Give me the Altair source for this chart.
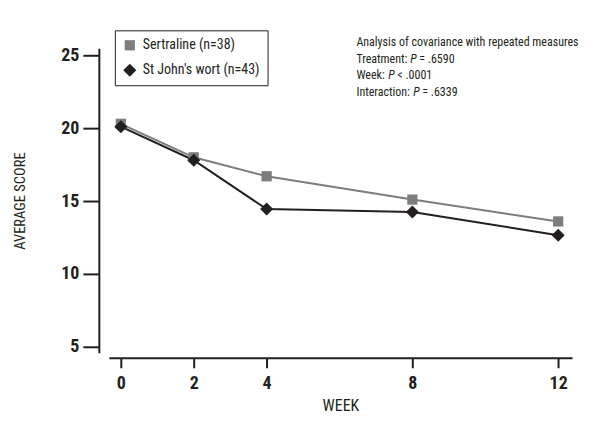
import altair as alt
import pandas as pd

weeks = [0, 2, 4, 8, 12]
sertraline = [20.3, 18.0, 16.7, 15.1, 13.6]
sjw = [20.1, 17.8, 14.45, 14.25, 12.65]
series_names = ["Sertraline (n=38)", "St John's wort (n=43)"]
x_ticks = [0, 2, 4, 8, 12]
y_ticks = [5, 10, 15, 20, 25]
note_title = "Analysis of covariance with repeated measures"
note_labels = ["Treatment:", "Week:", "Interaction:"]
note_stats = ["= .6590", "< .0001", "= .6339"]

FONT = "Roboto Condensed, DejaVu Sans Condensed, sans-serif"
INK = "#231f20"
GRAY = "#7d7d7d"

rows = []
for w, v in zip(weeks, sertraline):
    rows.append({"week": w, "score": v, "group": series_names[0]})
for w, v in zip(weeks, sjw):
    rows.append({"week": w, "score": v, "group": series_names[1]})
df = pd.DataFrame(rows)

W, H = 464, 305
xscale = alt.Scale(domain=[-0.33, 12.38], nice=False, zero=False)
yscale = alt.Scale(domain=[4.59, 25.48], nice=False, zero=False)
legend = alt.Legend(
    title=None, orient="none", legendX=6, legendY=-18,
    strokeColor=INK, padding=8, labelFontSize=14, labelFont=FONT,
    rowPadding=11, labelColor=INK, labelOffset=6,
    symbolStrokeWidth=0,
)
color = alt.Color(
    "group:N",
    scale=alt.Scale(domain=series_names, range=[GRAY, INK]),
    legend=legend,
)
shape = alt.Shape(
    "group:N",
    scale=alt.Scale(domain=series_names, range=["square", "diamond"]),
    legend=legend,
)
size = alt.Size(
    "group:N",
    scale=alt.Scale(domain=series_names, range=[105, 170]),
    legend=legend,
)

x = alt.X("week:Q", scale=xscale, axis=alt.Axis(
    values=x_ticks, title="WEEK", offset=5, grid=False,
    domainColor=INK, domainWidth=2, tickColor=INK, tickWidth=2,
    tickSize=10, labelFontSize=18, labelFontWeight="bold", labelFont=FONT,
    labelColor=INK, labelPadding=7, titleFont=FONT, titleFontSize=16,
    titleFontWeight="normal", titleColor=INK, titlePadding=5,
))
y = alt.Y("score:Q", scale=yscale, axis=alt.Axis(
    values=y_ticks, title="AVERAGE SCORE", offset=10, grid=False,
    domainColor=INK, domainWidth=2, tickColor=INK, tickWidth=2,
    tickSize=16, labelFontSize=18, labelFontWeight="bold", labelFont=FONT,
    labelColor=INK, labelPadding=4, titleFont=FONT, titleFontSize=14.5,
    titleFontWeight="normal", titleColor=INK, titlePadding=33,
))

lines = alt.Chart(df).mark_line(strokeWidth=2).encode(
    x=x, y=y, color=color, detail="group:N",
)
points = alt.Chart(df).mark_point(filled=True, opacity=1).encode(
    x=x, y=y, color=color, shape=shape, size=size,
)

one = pd.DataFrame({"k": [0]})
def note(txt, px, py, italic=False):
    return alt.Chart(one).mark_text(
        text=txt, align="left", baseline="alphabetic", font=FONT, fontSize=12,
        color=INK, fontStyle="italic" if italic else "normal",
    ).encode(x=alt.value(px), y=alt.value(py))

text_layers = [note(note_title, 248, -2)]
p_x = [302, 280, 305]
s_x = [311, 289, 314]
for i, (lab, st) in enumerate(zip(note_labels, note_stats)):
    yy = -2 + 16.5 * (i + 1)
    text_layers.append(note(lab, 248, yy))
    text_layers.append(note("P", p_x[i], yy, italic=True))
    text_layers.append(note(st, s_x[i], yy))

chart = alt.layer(lines, points, *text_layers).properties(
    width=W, height=H,
    autosize=alt.AutoSizeParams(type="none"),
    padding={"left": 101, "top": 40, "right": 10, "bottom": 70},
).configure(background="white").configure_view(stroke=None)

chart.save("out.html", embed_options={"renderer": "svg", "actions": False})
